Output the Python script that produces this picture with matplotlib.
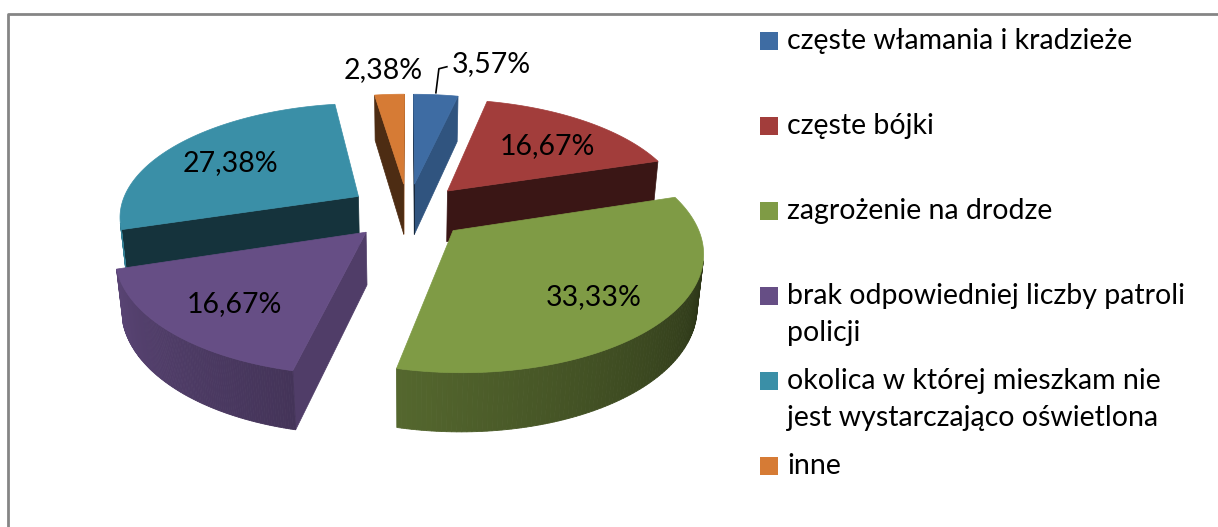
import numpy as np
import matplotlib.pyplot as plt
from matplotlib.patches import Polygon, Rectangle
from matplotlib.lines import Line2D

plt.rcParams['font.family'] = ['Lato', 'DejaVu Sans']

labels = ["częste włamania i kradzieże", "częste bójki", "zagrożenie na drodze",
          "brak odpowiedniej liczby patroli\npolicji",
          "okolica w której mieszkam nie\njest wystarczająco oświetlona", "inne"]
values = [3.57, 16.67, 33.33, 16.67, 27.38, 2.38]
colors = ["#3E6CA3", "#A23D3B", "#7F9B45", "#664E85", "#3A8FA7", "#D67B35"]

# 3D view settings (pixel space)
A = np.radians(28)
DIST = 5.5
FOC = 1315
CX, CY = 408, 211
EXPL = 0.25
H = 0.25
cam = np.array([0.0, DIST * np.sin(A), -DIST * np.cos(A)])


def proj(X, Y, Z):
    X, Y, Z = np.asarray(X, float), np.asarray(Y, float), np.asarray(Z, float)
    yv = Y * np.cos(A) + Z * np.sin(A)
    d = DIST + Z * np.cos(A) - Y * np.sin(A)
    return CX + FOC * X / d, CY - FOC * yv / d


def shade(c, f):
    rgb = np.array(plt.matplotlib.colors.to_rgb(c))
    return tuple(np.clip(rgb * f, 0, 1))


def outer_shade(phi):
    phi = phi % 360
    return float(np.clip(0.88 - (phi - 197) / 143 * 0.51, 0.35, 0.9))


fig = plt.figure(figsize=(12.18, 5.27), dpi=100)
ax = fig.add_axes([0, 0, 1, 1])
ax.set_xlim(0, 1218)
ax.set_ylim(527, 0)
ax.axis('off')

# slices, clockwise from 12 o'clock
slices = []
t2 = 90.0
for i, v in enumerate(values):
    t1 = t2 - v * 3.6
    mid = np.radians((t1 + t2) / 2)
    slices.append(dict(i=i, t1=t1, t2=t2, ox=EXPL * np.cos(mid), oz=EXPL * np.sin(mid), mid=mid))
    t2 = t1

for s in sorted(slices, key=lambda s: -np.sin(s['mid'])):
    c = colors[s['i']]
    ox, oz = s['ox'], s['oz']
    th = np.radians(np.linspace(s['t1'], s['t2'], 120))
    ax_x = ox + np.cos(th)
    ax_z = oz + np.sin(th)

    # radial cut faces
    for t, sign in [(s['t1'], 1), (s['t2'], -1)]:
        tr = np.radians(t)
        n = np.array([sign * np.sin(tr), 0, -sign * np.cos(tr)])
        p = np.array([ox, 0, oz])
        if n @ (cam - p) > 0:
            xs = [ox, ox + np.cos(tr), ox + np.cos(tr), ox]
            zs = [oz, oz + np.sin(tr), oz + np.sin(tr), oz]
            ys = [0, 0, -H, -H]
            px, py = proj(xs, ys, zs)
            f = 0.78 if n[0] > 0.7 else 0.36
            ax.add_patch(Polygon(np.c_[px, py], closed=True, fc=shade(c, f), ec=shade(c, f), lw=0.5))

    # outer curved side
    for k in range(len(th) - 1):
        tm = (th[k] + th[k + 1]) / 2
        n = np.array([np.cos(tm), 0, np.sin(tm)])
        p = np.array([ox + np.cos(tm), 0, oz + np.sin(tm)])
        if n @ (cam - p) > 0:
            xs = [ax_x[k], ax_x[k + 1], ax_x[k + 1], ax_x[k]]
            zs = [ax_z[k], ax_z[k + 1], ax_z[k + 1], ax_z[k]]
            ys = [0, 0, -H, -H]
            px, py = proj(xs, ys, zs)
            f = outer_shade(np.degrees(tm))
            ax.add_patch(Polygon(np.c_[px, py], closed=True, fc=shade(c, f), ec=shade(c, f), lw=0.6))

    # top face
    px, py = proj(np.r_[ox, ax_x], np.zeros(len(th) + 1), np.r_[oz, ax_z])
    ax.add_patch(Polygon(np.c_[px, py], closed=True, fc=c, ec=c, lw=0.5))

# data labels
for s in slices:
    txt = f"{values[s['i']]:.2f}%".replace('.', ',')
    if values[s['i']] > 5:
        r = EXPL + 0.7
        lx, ly = proj(r * np.cos(s['mid']), 0, r * np.sin(s['mid']))
        ax.text(lx, ly + 5, txt, fontsize=20.5, ha='center', va='center', color='black')
    else:
        r = EXPL + 1.0
        lx, ly = proj(r * np.cos(s['mid']), 0, r * np.sin(s['mid']))
        if np.cos(s['mid']) > 0:
            ax.plot([lx, lx + 3, lx + 11], [ly - 2, ly - 26, ly - 28], color='black', lw=1.2)
            ax.text(lx + 16, ly - 31, txt, fontsize=20.5, ha='left', va='center', color='black')
        else:
            ax.text(lx - 6, ly - 24, txt, fontsize=20.5, ha='center', va='center', color='black')

# legend
for i, lab in enumerate(labels):
    y0 = 41 + 85 * i
    ax.add_patch(Rectangle((760, y0 - 9), 18, 18, fc=colors[i], ec='none'))
    for j, line in enumerate(lab.split('\n')):
        ax.text(787, y0 + 37 * j, line, fontsize=20.5, ha='left', va='center', color='black')

# chart border
ax.add_line(Line2D([8, 8, 1230], [540, 14, 14], color='#858585', lw=2))

fig.savefig('out.png', dpi=100)
